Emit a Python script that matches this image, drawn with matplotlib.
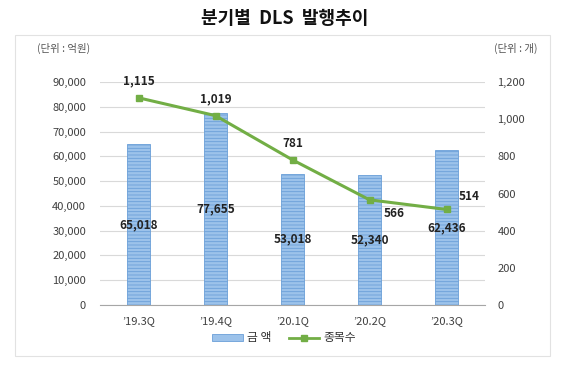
import matplotlib
matplotlib.use("Agg")
import matplotlib.pyplot as plt
from matplotlib.patches import Rectangle
from matplotlib.lines import Line2D
from matplotlib.ticker import FuncFormatter

plt.rcParams['font.family'] = ['Noto Sans CJK KR', 'DejaVu Sans']
plt.rcParams['hatch.color'] = '#B5D1F0'
plt.rcParams['hatch.linewidth'] = 0.6

# data
quarters = ["\u201919.3Q", "\u201919.4Q", "\u201920.1Q", "\u201920.2Q", "\u201920.3Q"]
amount = [65018, 77655, 53018, 52340, 62436]   # 억원
count = [1115, 1019, 781, 566, 514]            # 개

bar_face = '#9CC2EA'
bar_edge = '#6A9FD8'
line_col = '#72AE45'
txt_col = '#404040'

fig = plt.figure(figsize=(5.7, 3.74), dpi=100)

# outer chart box
fig.patches.append(Rectangle((15 / 570, 1 - 356 / 374), 535 / 570, 321 / 374,
                             transform=fig.transFigure, fill=False,
                             edgecolor='#E2E2E2', linewidth=0.8))

fig.text(285 / 570, 1 - 18 / 374, '분기별  DLS  발행추이', ha='center', va='center',
         fontsize=13, fontweight='bold', color='#111111')
fig.text(37 / 570, 1 - 48 / 374, '(단위 : 억원)', ha='left', va='center',
         fontsize=7.5, color='#555555')
fig.text(537 / 570, 1 - 48 / 374, '(단위 : 개)', ha='right', va='center',
         fontsize=7.5, color='#555555')

ax = fig.add_axes([100 / 570, 1 - 305 / 374, 385 / 570, 223 / 374])
x = list(range(len(quarters)))
ax.bar(x, amount, width=0.31, color=bar_face, edgecolor=bar_edge,
       linewidth=0.6, hatch='-----', zorder=2)
ax.set_ylim(0, 90000)
ax.set_xlim(-0.5, 4.5)
ax.set_yticks(range(0, 90001, 10000))
ax.yaxis.set_major_formatter(FuncFormatter(lambda v, p: f'{int(v):,}'))
ax.set_xticks(x)
ax.set_xticklabels(quarters)
ax.grid(axis='y', color='#D9D9D9', linewidth=0.8, zorder=0)
for s in ['top', 'right', 'left']:
    ax.spines[s].set_visible(False)
ax.spines['bottom'].set_color('#A6A6A6')
ax.tick_params(axis='both', length=0, labelsize=8, colors=txt_col)
ax.tick_params(axis='y', pad=10)
ax.tick_params(axis='x', pad=8)

for xi, v in zip(x, amount):
    ax.text(xi, v / 2, f'{v:,}', ha='center', va='center', fontsize=8.5,
            fontweight='bold', color='#222222', zorder=5)

ax2 = ax.twinx()
ax2.plot(x, count, color=line_col, linewidth=2.2, marker='s', markersize=5,
         markerfacecolor=line_col, zorder=4)
ax2.set_ylim(0, 1200)
ax2.set_yticks(range(0, 1201, 200))
ax2.yaxis.set_major_formatter(FuncFormatter(lambda v, p: f'{int(v):,}'))
ax2.tick_params(axis='y', length=0, labelsize=8, colors=txt_col, pad=9)
for s in ax2.spines.values():
    s.set_visible(False)

offsets = [(0, 12), (0, 12), (0, 12), (18, -10), (16, 9)]
for xi, v, (dx, dy) in zip(x, count, offsets):
    ax2.annotate(f'{v:,}', (xi, v), xytext=(dx, dy), textcoords='offset points',
                 ha='center', va='center', fontsize=8.5, fontweight='bold',
                 color='#222222')

handles = [Rectangle((0, 0), 1, 1, facecolor=bar_face, edgecolor=bar_edge, linewidth=0.6),
           Line2D([0], [0], color=line_col, linewidth=2, marker='s', markersize=4)]
fig.legend(handles, ['금 액', '종목수'], loc='center', bbox_to_anchor=(284 / 570, 1 - 338 / 374),
           ncol=2, frameon=False, fontsize=8.5, handlelength=2.6, handleheight=0.5,
           columnspacing=1.5, handletextpad=0.3, labelcolor='#333333')

fig.savefig('out.png', dpi=100)
